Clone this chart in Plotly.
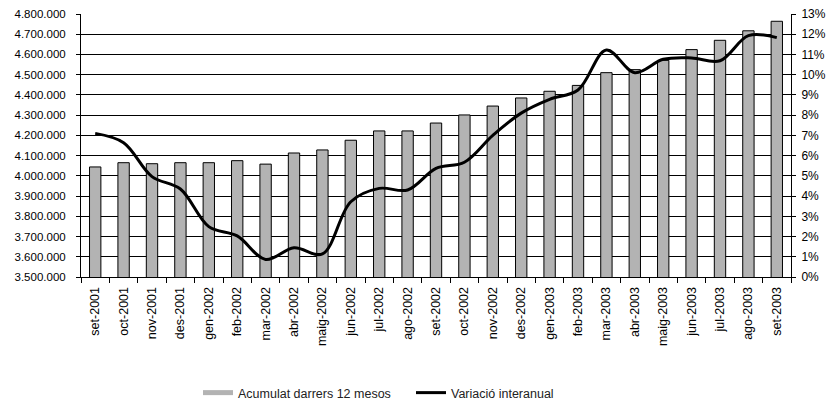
import plotly.graph_objects as go

months = [
    "set-2001", "oct-2001", "nov-2001", "des-2001", "gen-2002", "feb-2002",
    "mar-2002", "abr-2002", "maig-2002", "jun-2002", "jul-2002", "ago-2002",
    "set-2002", "oct-2002", "nov-2002", "des-2002", "gen-2003", "feb-2003",
    "mar-2003", "abr-2003", "maig-2003", "jun-2003", "jul-2003", "ago-2003",
    "set-2003",
]

# Accumulated total over the last 12 months
acumulat = [
    4044000, 4065000, 4060000, 4065000, 4065000, 4075000,
    4058000, 4113000, 4128000, 4176000, 4222000, 4222000,
    4261000, 4301000, 4345000, 4385000, 4418000, 4447000,
    4510000, 4525000, 4571000, 4624000, 4670000, 4717000,
    4764000,
]

# Year-on-year change (fraction)
variacio = [
    0.0710, 0.0664, 0.0496, 0.0435, 0.0249, 0.0203,
    0.0087, 0.0145, 0.0114, 0.0372, 0.0438, 0.0430,
    0.0537, 0.0567, 0.0700, 0.0810, 0.0878, 0.0924,
    0.1122, 0.1010, 0.1076, 0.1083, 0.1069, 0.1193,
    0.1183,
]

font_family = "Liberation Sans, Arial, sans-serif"
bar_fill = "#b3b3b3"

fig = go.Figure()

fig.add_trace(go.Bar(
    x=months, y=acumulat, name="Acumulat darrers 12 mesos",
    marker=dict(color=bar_fill, line=dict(color="black", width=1)),
    width=0.4, showlegend=False, yaxis="y",
))

# Legend swatch for the bars: a wide flat grey band
fig.add_trace(go.Scatter(
    x=[None], y=[None], mode="lines", name="Acumulat darrers 12 mesos",
    line=dict(color=bar_fill, width=5), yaxis="y",
))

fig.add_trace(go.Scatter(
    x=months, y=variacio, name="Variació interanual", mode="lines",
    line=dict(color="black", width=3, shape="spline", smoothing=1.0),
    yaxis="y2",
))

fig.update_layout(
    width=826, height=403,
    margin=dict(l=81, r=35, t=14, b=126),
    paper_bgcolor="white", plot_bgcolor="white",
    separators=",.",
    font=dict(family=font_family, size=11, color="black"),
    showlegend=True,
    legend=dict(
        orientation="h", x=198 / 826, xanchor="left",
        xref="container", yref="container",
        y=(403 - 393) / 403, yanchor="middle",
        font=dict(size=12.5, color="#222222"), itemwidth=30,
        entrywidth=168, entrywidthmode="pixels",
        traceorder="normal", bgcolor="rgba(0,0,0,0)",
    ),
    xaxis=dict(
        type="category", range=[-0.5, 24.5],
        tickangle=-90, tickson="boundaries",
        ticks="outside", ticklen=5, tickcolor="black",
        showline=True, linecolor="black", linewidth=1,
        showgrid=False, tickfont=dict(size=12.5), automargin=False,
        ticklabelstandoff=4,
    ),
    yaxis=dict(
        range=[3500000, 4800000], dtick=100000, tickformat=",d",
        showgrid=True, gridcolor="black", gridwidth=1,
        showline=True, linecolor="black", linewidth=1,
        ticks="outside", ticklen=4, tickcolor="black",
        zeroline=False, tickfont=dict(size=11.5), automargin=False,
        ticklabelstandoff=8,
    ),
    yaxis2=dict(
        range=[0, 0.13], dtick=0.01, tickformat=".0%",
        overlaying="y", side="right", showgrid=False,
        showline=True, linecolor="black", linewidth=1,
        ticks="outside", ticklen=4, tickcolor="black",
        zeroline=False, tickfont=dict(size=12), automargin=False,
        ticklabelstandoff=3,
    ),
    bargap=0.6,
)

fig.write_html("out.html")
